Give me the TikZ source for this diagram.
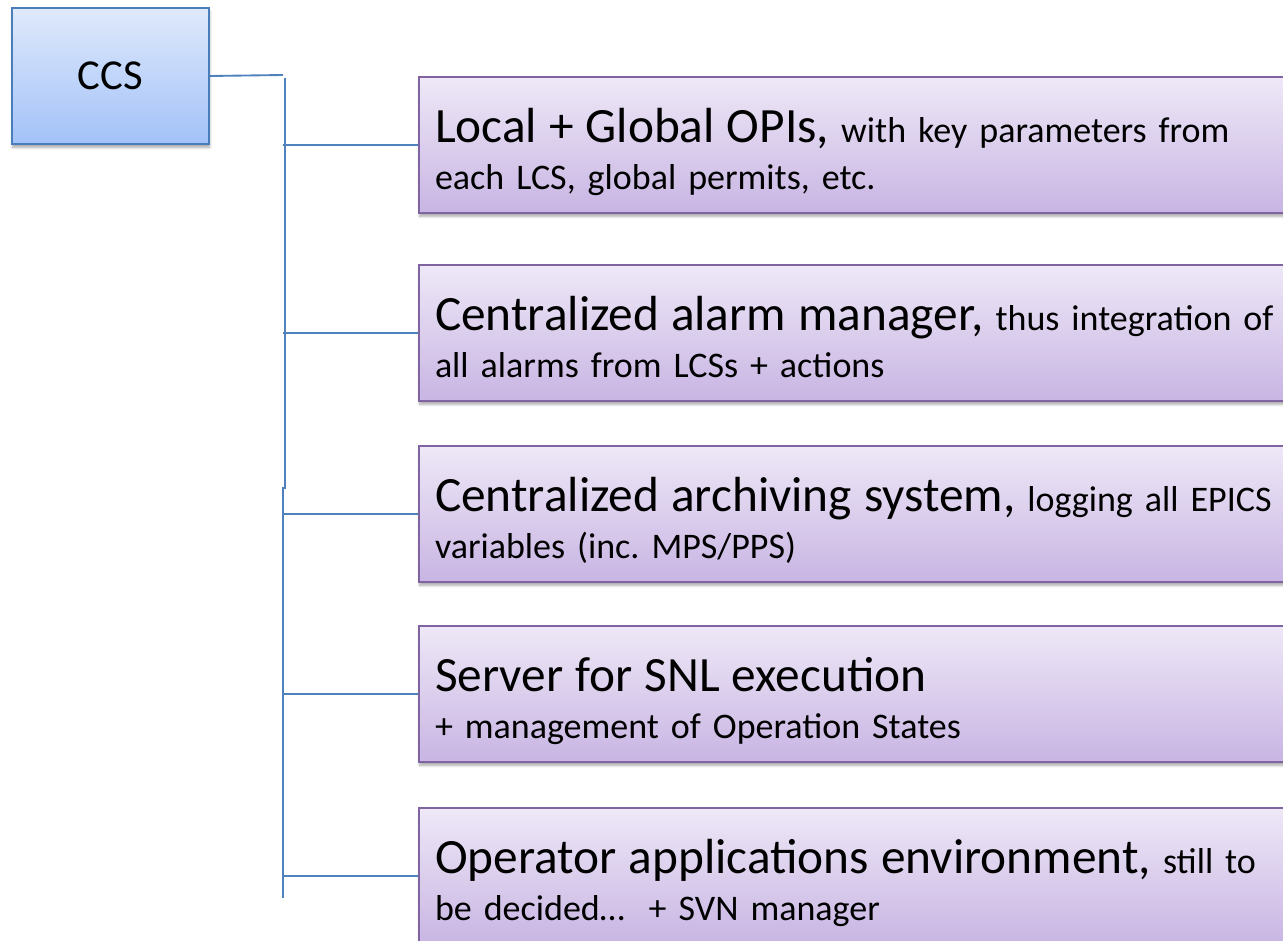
\documentclass[tikz,border=0pt]{standalone}
\usepackage{fontspec}
\setmainfont{Carlito}
\usetikzlibrary{shadows.blur}

\definecolor{wireblue}{HTML}{4F81BD}
\definecolor{ccsedge}{HTML}{4A7EBB}
\definecolor{ccstop}{HTML}{DFE9FB}
\definecolor{ccsbot}{HTML}{A3C2F8}
\definecolor{itemedge}{HTML}{8064A2}
\definecolor{itemtop}{HTML}{EEE8F7}
\definecolor{itembot}{HTML}{C8B5E3}

% larger lead-in words of each item; the strut fixes the first line's height
\newcommand\leadin[1]{\rule{0pt}{41pt}{\fontsize{37}{44}\selectfont #1}}
% fixed depth below the last line
\newcommand\lastdepth{\rule[-9pt]{0pt}{9pt}}

\begin{document}
\begin{tikzpicture}[x=0.75pt,y=-0.75pt,
  wire/.style={draw=wireblue,line width=1.4pt},
  rootbox/.style={rectangle,draw=ccsedge,line width=1.5pt,
    top color=ccstop,bottom color=ccsbot,anchor=north west,
    minimum width=147.75pt,minimum height=102pt,inner sep=0pt,
    font=\fontsize{32}{38}\selectfont,
    blur shadow={shadow xshift=0.5pt,shadow yshift=-2.5pt,shadow blur steps=6,shadow opacity=35}},
  itembox/.style={rectangle,draw=itemedge,line width=1.5pt,
    top color=itemtop,bottom color=itembot,anchor=north west,
    minimum height=102pt,text width=675pt,inner xsep=12pt,inner ysep=0pt,
    align=left,font=\fontsize{27}{35.25}\selectfont,
    blur shadow={shadow xshift=0.5pt,shadow yshift=-2.5pt,shadow blur steps=6,shadow opacity=35}}
]
\clip (0,0) rectangle (1283,941);

% root system
\node[rootbox] (ccs) at (11,7) {CCS};

% service items
\node[itembox] (opi) at (418,76)
  {\leadin{Local + Global OPIs,} with key parameters from\\each LCS, global permits, etc.\lastdepth};
\node[itembox] (alarm) at (418,264)
  {\leadin{Centralized alarm manager,} thus integration of\\all alarms from LCSs + actions\lastdepth};
\node[itembox] (archive) at (418,445)
  {\leadin{Centralized archiving system,} logging all EPICS\\variables (inc.\ MPS/PPS)\lastdepth};
\node[itembox] (snl) at (418,625)
  {\leadin{Server for SNL execution}\\+ management of Operation States\lastdepth};
\node[itembox] (opapp) at (418,807)
  {\leadin{Operator applications environment,} still to\\be decided…\ \ + SVN manager\lastdepth};

% tree connectors
\coordinate (ccsend) at (283,75);
\coordinate (spinetop) at (285,78);
\coordinate (jogtop) at (285,488);
\coordinate (jogbot) at (283,488);
\coordinate (spinebot) at (283,898);

\draw[wire] (ccs.east) -- (ccsend);
\draw[wire] (spinetop) -- (jogtop) -- (jogbot) -- (spinebot);
\foreach \b in {opi,alarm,archive,snl,opapp}
  \draw[wire] (\b.west -| spinebot) -- (\b.west);
\end{tikzpicture}
\end{document}
